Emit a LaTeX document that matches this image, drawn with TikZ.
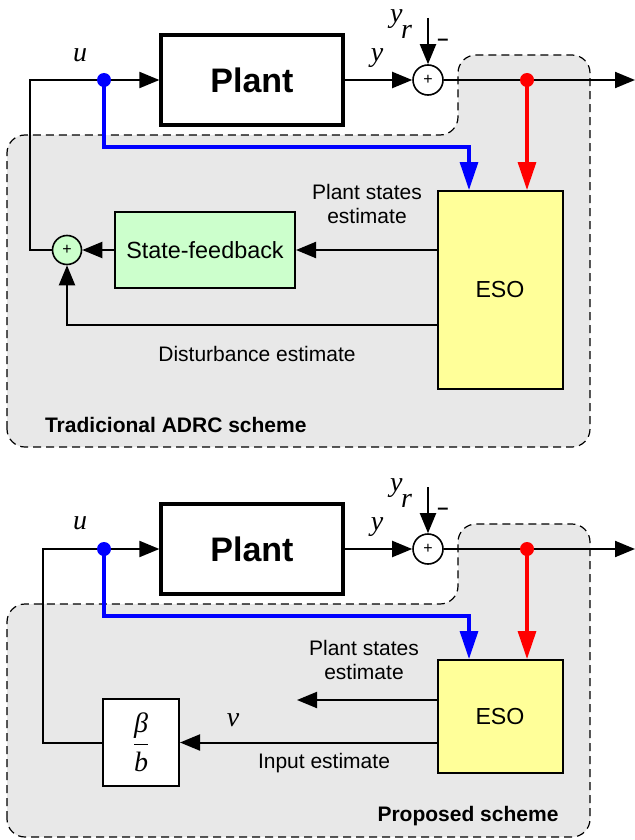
\documentclass[tikz,border=0pt]{standalone}
\usepackage{fontspec}
\setmainfont{Liberation Sans}
\newfontfamily\serifit{Liberation Serif}
\usetikzlibrary{arrows.meta, positioning}

\definecolor{regiongray}{HTML}{E8E8E8}
\definecolor{sfgreen}{HTML}{CCFFCC}
\definecolor{esoyellow}{HTML}{FFFF99}

\begin{document}
\begin{tikzpicture}[
    x=0.5pt, y=-0.5pt,
    blk/.style={rectangle, draw, line width=1pt, align=center, inner sep=0pt},
    sumnode/.style={circle, draw, line width=0.8pt, fill=#1, minimum size=14.5pt, inner sep=0pt, font=\fontsize{8}{8}\selectfont},
    splitdot/.style={circle, fill=#1, inner sep=0pt, minimum size=7pt},
    sig/.style={-{Triangle[length=10pt,width=8pt]}, line width=1pt},
    obs/.style={-{Triangle[length=14pt,width=9pt]}, line width=1.6pt},
    region/.style={draw, dash pattern=on 4pt off 2.5pt, line width=0.6pt, fill=regiongray, rounded corners=9pt},
    txt/.style={font=\fontsize{10.5}{12}\selectfont, align=center},
    schemelbl/.style={font=\fontsize{10.5}{12}\selectfont\bfseries},
    varlbl/.style={font=\fontsize{14}{14}\selectfont\serifit\itshape, inner sep=0pt},
]
\useasboundingbox (0,0) rectangle (635,840);

% Traditional ADRC scheme
\draw[region] (7,447) -- (7,135) -- (458,135) -- (458,55) -- (590,55) -- (590,447) -- cycle;

% Nodes
\node[blk, line width=1.6pt, fill=white, minimum width=91pt, minimum height=45pt, font=\fontsize{17}{17}\selectfont\bfseries] (plant) at (252,80) {Plant};
\node[sumnode=white, minimum size=15pt] (sumy) at (428,80) {+};
\node[blk, fill=esoyellow, minimum width=62.5pt, minimum height=99pt, font=\fontsize{11.6}{12}\selectfont] (eso) at (500,290) {ESO};
\node[blk, fill=sfgreen, minimum width=90pt, minimum height=38pt, font=\fontsize{11.7}{12}\selectfont] (sf) at (205,250) {State-feedback};
\node[sumnode=sfgreen] (sumu) at (67,250) {+};

\coordinate (ucorner) at (30,80);
\coordinate (usplit) at (104,80);
\coordinate (ysplit) at (527,80);
\coordinate (yout) at (635,80);
\coordinate (yref) at (428,18);
\coordinate (ucopy) at (469,147);

% Arrows
\draw[sig] (sumu.west) -| (ucorner) -- (plant.west);
\draw[sig] (plant.east) -- (sumy.west);
\draw[sig] (yref) -- (sumy.north);
\draw[sig] (sumy.east) -- (yout);
\draw[obs, blue] (usplit) |- (ucopy) -- (ucopy |- eso.north);
\draw[obs, red] (ysplit) -- (ysplit |- eso.north);
\draw[sig] (sf.east -| eso.west) -- (sf.east);
\draw[sig] (sf.west) -- (sumu.east);
\draw[sig] ([yshift=-17.5pt]eso.west) -| (sumu.south);

\node[splitdot=blue] (udot) at (usplit) {};
\node[splitdot=red] (ydot) at (ysplit) {};

% Labels
\node[varlbl] (ulbl) at (80,55) {u};
\node[varlbl] (ylbl) at (377,58) {y};
\node[varlbl] (yrlbl) at (401,24) {y\kern-0.05em\raisebox{-0.6em}{r}};
\node[font=\bfseries] (minus) at (443,42) {–};
\node[txt] (pslbl) at (367,204) {Plant states\\estimate};
\node[txt] (dlbl) at (257,354) {Disturbance estimate};
\node[schemelbl, anchor=west] (tradlbl) at (38,425) {Tradicional ADRC scheme};

% Proposed scheme
\begin{scope}[shift={(0,469)}]
\draw[region] (7,368) -- (7,135) -- (458,135) -- (458,55) -- (590,55) -- (590,368) -- cycle;

\node[blk, line width=1.6pt, fill=white, minimum width=91pt, minimum height=45pt, font=\fontsize{17}{17}\selectfont\bfseries] (plant2) at (252,80) {Plant};
\node[sumnode=white, minimum size=15pt] (sumy2) at (428,80) {+};
\node[blk, fill=esoyellow, minimum width=62.5pt, minimum height=56.5pt, font=\fontsize{11.6}{12}\selectfont] (eso2) at (500,247.5) {ESO};
\node[blk, fill=white, minimum width=38pt, minimum height=43.5pt, font=\fontsize{14}{14}\selectfont] (gain) at (141,273.5) {$\displaystyle\frac{\hbox{\serifit\itshape β}}{\hbox{\serifit\itshape b}}$};

\coordinate (ucorner2) at (43,80);
\coordinate (usplit2) at (104,80);
\coordinate (ysplit2) at (527,80);
\coordinate (yout2) at (635,80);
\coordinate (yref2) at (428,18);
\coordinate (ucopy2) at (469,147);
\coordinate (psend) at (297,231);

\draw[sig] (gain.west) -| (ucorner2) -- (plant2.west);
\draw[sig] (plant2.east) -- (sumy2.west);
\draw[sig] (yref2) -- (sumy2.north);
\draw[sig] (sumy2.east) -- (yout2);
\draw[obs, blue] (usplit2) |- (ucopy2) -- (ucopy2 |- eso2.north);
\draw[obs, red] (ysplit2) -- (ysplit2 |- eso2.north);
\draw[sig] (psend -| eso2.west) -- (psend);
\draw[sig] (gain.east -| eso2.west) -- (gain.east);

\node[splitdot=blue] (udot2) at (usplit2) {};
\node[splitdot=red] (ydot2) at (ysplit2) {};

\node[varlbl] (ulbl2) at (80,54) {u};
\node[varlbl] (ylbl2) at (377,58) {y};
\node[varlbl] (yrlbl2) at (401,24) {y\kern-0.05em\raisebox{-0.6em}{r}};
\node[font=\bfseries] (minus2) at (443,42) {–};
\node[varlbl] (vlbl) at (233,251) {v};
\node[txt] (pslbl2) at (364,191) {Plant states\\estimate};
\node[txt] (ielbl) at (324,294) {Input estimate};
\node[schemelbl] (proplbl) at (468,347) {Proposed scheme};
\end{scope}
\end{tikzpicture}
\end{document}
